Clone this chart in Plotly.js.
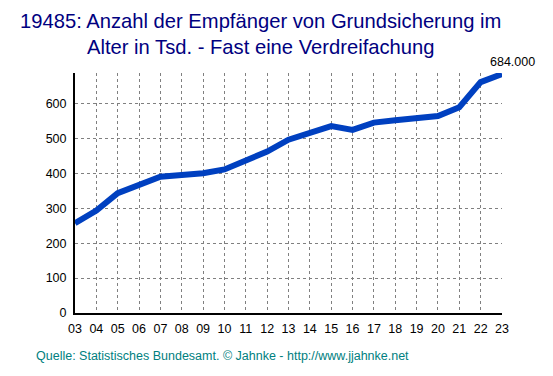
<!DOCTYPE html>
<html><head><meta charset="utf-8">
<script src="https://cdn.plot.ly/plotly-3.0.1.min.js"></script>
<style>html,body{margin:0;padding:0;background:#fff}#chart{width:553px;height:376px}</style>
</head><body><div id="chart"></div>
<script>
const years = ['03','04','05','06','07','08','09','10','11','12','13','14','15','16','17','18','19','20','21','22','23'];
const recipients = [257,293,343,367,390,395,400,411,435,462,496,514,535,524,545,552,560,564,589,661,684];
const yTicks = [0,100,200,300,400,500,600];
const lastLabel = '684.000';
const titleLine1 = '19485: Anzahl der Empfänger von Grundsicherung im';
const titleLine2 = 'Alter in Tsd. - Fast eine Verdreifachung';
const sourceText = 'Quelle: Statistisches Bundesamt. © Jahnke - http://www.jjahnke.net';

const font = 'Liberation Sans, Arial, sans-serif';
const plotH = 240, plotW = 427, plotTop = 73, plotLeft = 75;
const py = (pix) => (plotTop + plotH - pix) / plotH;
const px = (pix) => (pix - plotLeft) / plotW;
const titleFont = {family: font, size: 20.2, color: '#000080'};
Plotly.newPlot('chart', [{
  x: years, y: recipients, type: 'scatter', mode: 'lines',
  line: {color: '#0040C0', width: 6}, hoverinfo: 'none'
}], {
  width: 553, height: 376,
  margin: {l: 75, r: 51, t: 73, b: 63},
  paper_bgcolor: '#fff', plot_bgcolor: '#fff',
  showlegend: false,
  xaxis: {type: 'category', range: [0, 20], tickvals: years, ticktext: years,
    showgrid: true, gridcolor: '#808080', griddash: '3px,3px', gridwidth: 1,
    showline: true, linecolor: '#000', linewidth: 2, ticks: 'outside', ticklen: 3, tickcolor: 'rgba(0,0,0,0)', zeroline: false,
    tickfont: {family: font, size: 12.5, color: '#000'}},
  yaxis: {range: [0, 687], tickvals: yTicks,
    showgrid: true, gridcolor: '#808080', griddash: '3px,3px', gridwidth: 1,
    showline: true, linecolor: '#000', linewidth: 2, ticks: 'outside', ticklen: 4, tickcolor: 'rgba(0,0,0,0)', zeroline: false,
    tickfont: {family: font, size: 12.5, color: '#000'}},
  annotations: [
    {text: titleLine1, showarrow: false, xref: 'paper', yref: 'paper', x: px(260), xanchor: 'center', y: py(21), yanchor: 'middle', font: titleFont},
    {text: titleLine2, showarrow: false, xref: 'paper', yref: 'paper', x: px(260), xanchor: 'center', y: py(47), yanchor: 'middle', font: titleFont},
    {x: years.length - 1, y: recipients[recipients.length-1], text: lastLabel, showarrow: false,
     xref: 'x', yref: 'y', xanchor: 'center', yanchor: 'middle', xshift: 10, yshift: 12,
     font: {family: font, size: 12.5, color: '#000'}},
    {text: sourceText, showarrow: false, xref: 'paper', yref: 'paper',
     x: px(34), xanchor: 'left', y: py(356), yanchor: 'middle',
     font: {family: font, size: 12.5, color: '#008080'}}
  ]
}, {staticPlot: true});
</script></body></html>
